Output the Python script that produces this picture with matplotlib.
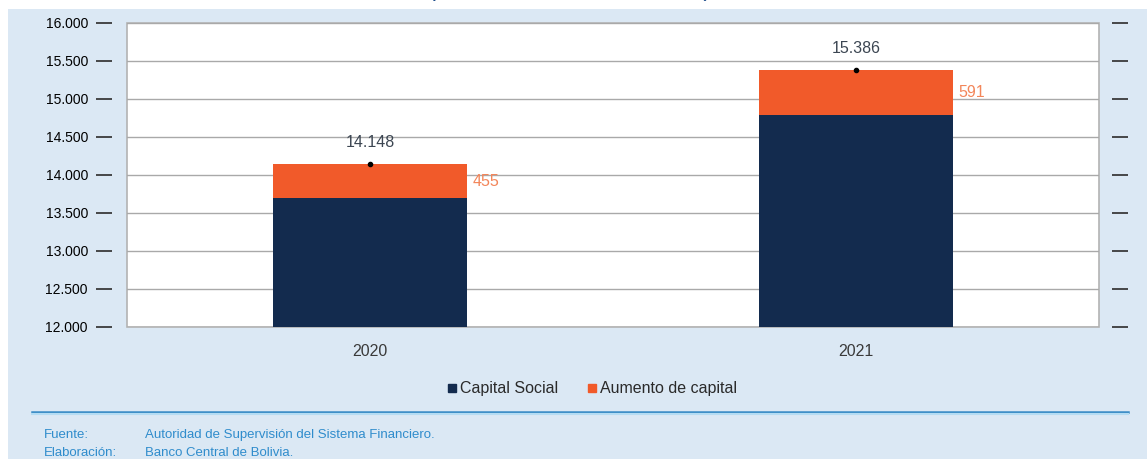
import numpy as np
import matplotlib.pyplot as plt
from matplotlib.patches import Rectangle
from matplotlib.lines import Line2D

plt.rcParams['font.family'] = ['Liberation Sans', 'DejaVu Sans']

# Capital of the financial system, in millions of bolivianos
years = ['2020', '2021']
capital_social = [13693, 14795]
aumento = [455, 591]
totals = [14148, 15386]
y_ticks = [12000, 12500, 13000, 13500, 14000, 14500, 15000, 15500, 16000]

navy = '#132b4e'
orange = '#f15a2a'
bg_blue = '#dbe8f4'
PX = 72 / 100  # points per pixel at dpi=100

fig = plt.figure(figsize=(11.47, 4.59), dpi=100)
fig.patch.set_facecolor('white')
# light blue panel behind the chart
fig.patches.append(Rectangle((8 / 1147, 0), 1, 1 - 9 / 459, transform=fig.transFigure,
                             facecolor=bg_blue, edgecolor='none', zorder=-10))
fig.text(0.497, 1.0 + 4 / 459, '(En millones de bolivianos)', ha='center', va='baseline',
         fontsize=17, color='#1f4e8c')

ax = fig.add_axes([127 / 1147, 1 - 327 / 459, 972 / 1147, 304 / 459])
ax.set_facecolor('white')
ax.patch.set_edgecolor('#b3b3b3')
ax.patch.set_linewidth(1.2)

x = np.arange(len(years))
w = 0.4
ax.bar(x, capital_social, width=w, color=navy, zorder=3)
ax.bar(x, aumento, width=w, bottom=capital_social, color=orange, zorder=3)

for i in range(len(years)):
    ax.plot(x[i], totals[i], 'o', color='black', ms=3, zorder=4)
    ax.annotate(f'{totals[i]:,}'.replace(',', '.'), (x[i], totals[i]), xytext=(0, 10),
                textcoords='offset points', ha='center', va='bottom', fontsize=11.5, color='#3c4652')
    ax.annotate(f'{aumento[i]}', (x[i] + w / 2, capital_social[i] + aumento[i] / 2),
                xytext=(4, 0), textcoords='offset points', ha='left', va='center',
                fontsize=11.5, color='#f3865a')

ax.set_xlim(-0.5, 1.5)
ax.set_ylim(12000, 16000)
ax.set_yticks(y_ticks)
ax.set_yticklabels([f'{v:,}'.replace(',', '.') for v in y_ticks], fontsize=11.5, color='#3a3a3a')
ax.set_xticks(x)
ax.set_xticklabels(years, fontsize=11.5, color='#3a3a3a')
ax.grid(axis='y', color='#a9a9a9', lw=1, zorder=0)

for s in ['top', 'bottom', 'left', 'right']:
    ax.spines[s].set_visible(False)
# dash-style ticks sit away from the plot frame
ax.spines['left'].set_position(('outward', 15 * PX))
ax.spines['right'].set_position(('outward', 13 * PX))
ax.tick_params(axis='y', which='both', left=True, right=True, direction='out', length=16 * PX,
               width=1.3, color='#3a3a3a', pad=8 * PX)
ax.tick_params(axis='x', length=0, pad=12)

handles = [Line2D([], [], marker='s', ls='none', color=navy, ms=6),
           Line2D([], [], marker='s', ls='none', color=orange, ms=6)]
fig.legend(handles, ['Capital Social', 'Aumento de capital'], loc='center',
           bbox_to_anchor=(0.516, 1 - 389 / 459), ncol=2, frameon=False, fontsize=11.5,
           handlelength=0.6, handletextpad=0.2, columnspacing=1.8, labelcolor='#2a2a2a')

fig.add_artist(Line2D([32 / 1147, 1128 / 1147], [1 - 412 / 459] * 2, color='#3a8cc6', lw=1.8))
fig.add_artist(Line2D([32 / 1147, 1128 / 1147], [1 - 414 / 459] * 2, color='#b5dcf3', lw=1.5))

foot = '#2f8ccc'
fig.text(44 / 1147, 1 - 435 / 459, 'Fuente:', fontsize=9.5, color=foot, va='center')
fig.text(145 / 1147, 1 - 435 / 459, 'Autoridad de Supervisión del Sistema Financiero.',
         fontsize=9.5, color=foot, va='center')
fig.text(44 / 1147, 1 - 453 / 459, 'Elaboración:', fontsize=9.5, color=foot, va='center')
fig.text(145 / 1147, 1 - 453 / 459, 'Banco Central de Bolivia.', fontsize=9.5, color=foot,
         va='center')

fig.savefig('out.png', dpi=100)
